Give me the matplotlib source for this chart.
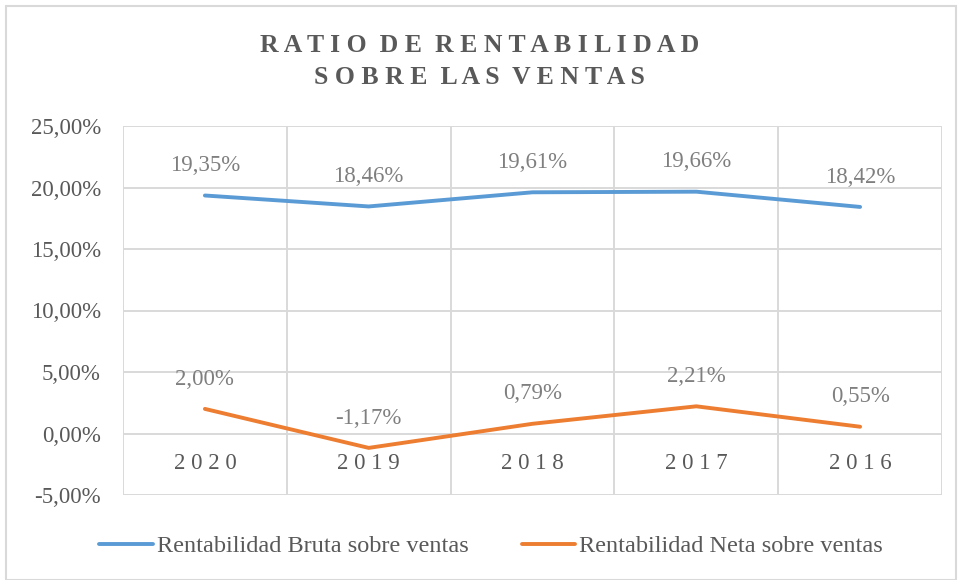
import matplotlib.pyplot as plt
from matplotlib.patches import Rectangle
from matplotlib.ticker import FuncFormatter

plt.rcParams['font.family'] = ['Liberation Serif', 'DejaVu Serif']

years = ['2020', '2019', '2018', '2017', '2016']
bruta = [19.35, 18.46, 19.61, 19.66, 18.42]
neta = [2.00, -1.17, 0.79, 2.21, 0.55]
title_lines = ['RATIO DE RENTABILIDAD', 'SOBRE LAS VENTAS']
series_names = ['Rentabilidad Bruta sobre ventas', 'Rentabilidad Neta sobre ventas']

blue = '#5b9bd5'
orange = '#ed7d31'
grid_c = '#d9d9d9'
text_c = '#595959'
label_c = '#7f7f7f'

W, H = 959, 580
fig = plt.figure(figsize=(W / 100, H / 100), dpi=100)
ax = fig.add_axes([123 / W, 1 - 495 / H, (942 - 123) / W, (495 - 126) / H])

# outer chart border
fig.patches.append(Rectangle((6 / W, 0 / H), (956 - 6) / W, (574 - 0) / H,
                             transform=fig.transFigure, fill=False,
                             edgecolor=grid_c, lw=1.5))

x = list(range(len(years)))
ax.plot(x, bruta, color=blue, lw=2.8, solid_capstyle='round', label=series_names[0], zorder=3)
ax.plot(x, neta, color=orange, lw=2.8, solid_capstyle='round', label=series_names[1], zorder=3)

for xi, v in zip(x, bruta):
    ax.annotate(f'{v:.2f}%'.replace('.', ','), (xi, v), xytext=(0, 21.5),
                textcoords='offset points', ha='center', va='center',
                fontsize=16.5, color=label_c)
for xi, v in zip(x, neta):
    ax.annotate(f'{v:.2f}%'.replace('.', ','), (xi, v), xytext=(0, 21.5),
                textcoords='offset points', ha='center', va='center',
                fontsize=16.5, color=label_c)

# category labels sit just under the zero line
for xi, yr in zip(x, years):
    ax.annotate(' '.join(yr), (xi, 0), xytext=(0, -21.5),
                textcoords='offset points', ha='center', va='center',
                fontsize=16.5, color=text_c)

ax.set_xlim(-0.5, len(years) - 0.5)
ax.set_ylim(-5, 25)
ax.set_yticks([-5, 0, 5, 10, 15, 20, 25])
ax.yaxis.set_major_formatter(FuncFormatter(lambda v, p: f'{v:.2f}%'.replace('.', ',')))
ax.tick_params(axis='y', length=0, pad=16, labelsize=16.5, labelcolor=text_c)
ax.set_xticks([])

for v in [-5, 0, 5, 10, 15, 20, 25]:
    ax.axhline(v, color=grid_c, lw=1.4, zorder=1)
for b in [i - 0.5 for i in range(len(years) + 1)]:
    ax.axvline(b, color=grid_c, lw=1.4, zorder=1)
for s in ax.spines.values():
    s.set_visible(False)

for i, line in enumerate(title_lines):
    spaced = '  '.join(' '.join(w) for w in line.split(' '))
    fig.text(0.5, 1 - (46 + 32 * i) / H, spaced, ha='center', va='center',
             fontsize=18.5, fontweight='bold', color=text_c)

fig.legend(loc='center', bbox_to_anchor=(491 / W, 1 - 546 / H), ncol=2,
           frameon=False, fontsize=17.5, handlelength=2.2, handletextpad=0.15,
           columnspacing=2.2, labelcolor=text_c)

fig.savefig('out.png', dpi=100)
